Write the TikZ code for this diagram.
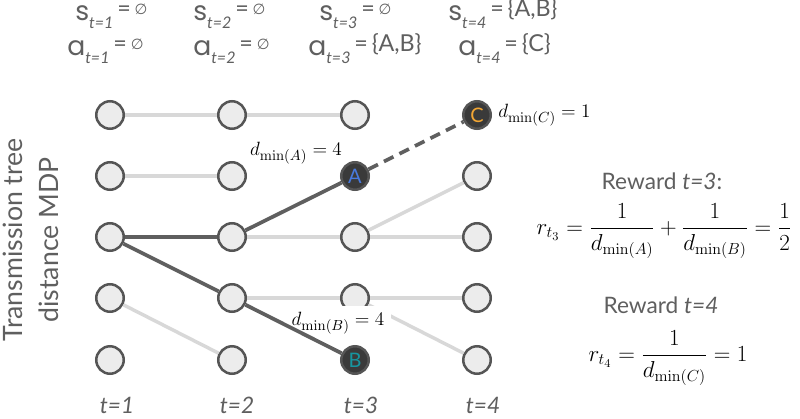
\documentclass[tikz,border=0pt]{standalone}
\usepackage[no-math]{fontspec}
\setmainfont{Lato}
\newfontfamily\symfont{DejaVu Sans}
\newfontfamily\varfont{Poppins}

\definecolor{nodefill}{RGB}{236,236,236}
\definecolor{nodeline}{RGB}{85,85,85}
\definecolor{faintline}{RGB}{216,216,216}
\definecolor{pathline}{RGB}{95,95,95}
\definecolor{hitfill}{RGB}{58,58,58}
\definecolor{labelgray}{RGB}{95,95,95}
\definecolor{colA}{RGB}{72,122,222}
\definecolor{colB}{RGB}{22,150,160}
\definecolor{colC}{RGB}{242,166,52}

% state / action labels
\newcommand{\mdpvar}[3]{{\fontsize{20}{20}\varfont #1}\raisebox{-6pt}{\fontsize{12}{12}\selectfont\itshape t=#2}\raisebox{2.5pt}{\fontsize{17.5}{17.5}\selectfont\,=\,#3}}
\newcommand{\noset}{\raisebox{1.5pt}{\fontsize{11}{11}\selectfont\symfont ∅}}

\tikzset{
state/.style={circle, draw=nodeline, fill=nodefill, line width=1.9pt, minimum size=20.6pt, inner sep=0pt},
hit/.style={state, fill=hitfill, font=\fontsize{15}{15}\selectfont},
faint/.style={draw=faintline, line width=2.6pt},
chosen/.style={draw=pathline, line width=2.8pt},
hdr/.style={anchor=base west, inner sep=0pt, text=labelgray},
dlabel/.style={inner sep=0.75pt, font=\fontsize{15}{18}\selectfont},
steplabel/.style={anchor=base, inner sep=0pt, text=labelgray, font=\fontsize{17}{17}\selectfont\itshape}}

\begin{document}
\begin{tikzpicture}[x=0.75pt,y=0.75pt,yscale=-1,xscale=1]
\useasboundingbox (0,0) rectangle (800,418);

% Headers
\node [hdr] (s1) at (75,20) {\mdpvar{s}{1}{\noset}};
\node [hdr] (s2) at (193,20) {\mdpvar{s}{2}{\noset}};
\node [hdr] (s3) at (319,20) {\mdpvar{s}{3}{\noset}};
\node [hdr] (s4) at (448,20) {\mdpvar{s}{4}{\{A,B\}}};
\node [hdr] (a1) at (67,55) {\mdpvar{a}{1}{\noset}};
\node [hdr] (a2) at (193,55) {\mdpvar{a}{2}{\noset}};
\node [hdr] (a3) at (308,55) {\mdpvar{a}{3}{\{A,B\}}};
\node [hdr] (a4) at (458,55) {\mdpvar{a}{4}{\{C\}}};

% Grid of states
\node [state] (n11) at (110,115) {};
\node [state] (n12) at (110,176) {};
\node [state] (n13) at (110,237) {};
\node [state] (n14) at (110,298) {};
\node [state] (n15) at (110,360) {};

\node [state] (n21) at (232,115) {};
\node [state] (n22) at (232,176) {};
\node [state] (n23) at (232,237) {};
\node [state] (n24) at (232,298) {};
\node [state] (n25) at (232,360) {};

\node [state] (n31) at (355,115) {};
\node [hit] (nA) at (355,176) {\textcolor{colA}{A}};
\node [state] (n33) at (355,237) {};
\node [state] (n34) at (355,298) {};
\node [hit] (nB) at (355,360) {\textcolor{colB}{B}};

\node [hit] (nC) at (477,115) {\textcolor{colC}{C}};
\node [state] (n42) at (477,176) {};
\node [state] (n43) at (477,237) {};
\node [state] (n44) at (477,298) {};
\node [state] (n45) at (477,360) {};

% Unused edges
\draw [faint] (n11) -- (n21);
\draw [faint] (n21) -- (n31);
\draw [faint] (n12) -- (n22);
\draw [faint] (n14) -- (n25);
\draw [faint] (n23) -- (n33);
\draw [faint] (n24) -- (n34);
\draw [faint] (n33) -- (n42);
\draw [faint] (n33) -- (n43);
\draw [faint] (n34) -- (n44);
\draw [faint] (n34) -- (n45);

% Distance label over the faint edge
\node [dlabel, fill=white, inner sep=5pt] (dB) at (338,323) {$d_{\min(B)}=4$};

% Transmission tree
\draw [chosen] (n13) -- (n23);
\draw [chosen] (n23) -- (nA);
\draw [chosen] (n13) -- (n24);
\draw [chosen] (n24) -- (nB);
\draw [chosen, dash pattern={on 8pt off 5pt}] (nA) -- (nC);

% Distance labels
\node [dlabel] (dA) at (296,153) {$d_{\min(A)}=4$};
\node [dlabel, anchor=west] (dC) at (497,115) {$d_{\min(C)}=1$};

% Time steps
\node [steplabel] (t1) at (117,413) {t=1};
\node [steplabel] (t2) at (237,413) {t=2};
\node [steplabel] (t3) at (361,413) {t=3};
\node [steplabel] (t4) at (483,413) {t=4};

% Axis title
\node [rotate=90, align=center, text=labelgray, font=\fontsize{20}{27}\selectfont] (ttl) at (31,240) {Transmission tree\\distance MDP};

% Rewards
\node [text=labelgray, font=\fontsize{17}{20}\selectfont] (rw3) at (662,181) {Reward \textit{t=3}:};
\node [font=\fontsize{17.5}{20}\selectfont] (r3) at (664,231) {$\displaystyle r_{t_3}=\frac{1}{d_{\min(A)}}+\frac{1}{d_{\min(B)}}=\frac{1}{2}$};
\node [text=labelgray, font=\fontsize{17}{20}\selectfont] (rw4) at (661,305) {Reward \textit{t=4}};
\node [font=\fontsize{17.5}{20}\selectfont] (r4) at (668,358) {$\displaystyle r_{t_4}=\frac{1}{d_{\min(C)}}=1$};

\end{tikzpicture}
\end{document}
